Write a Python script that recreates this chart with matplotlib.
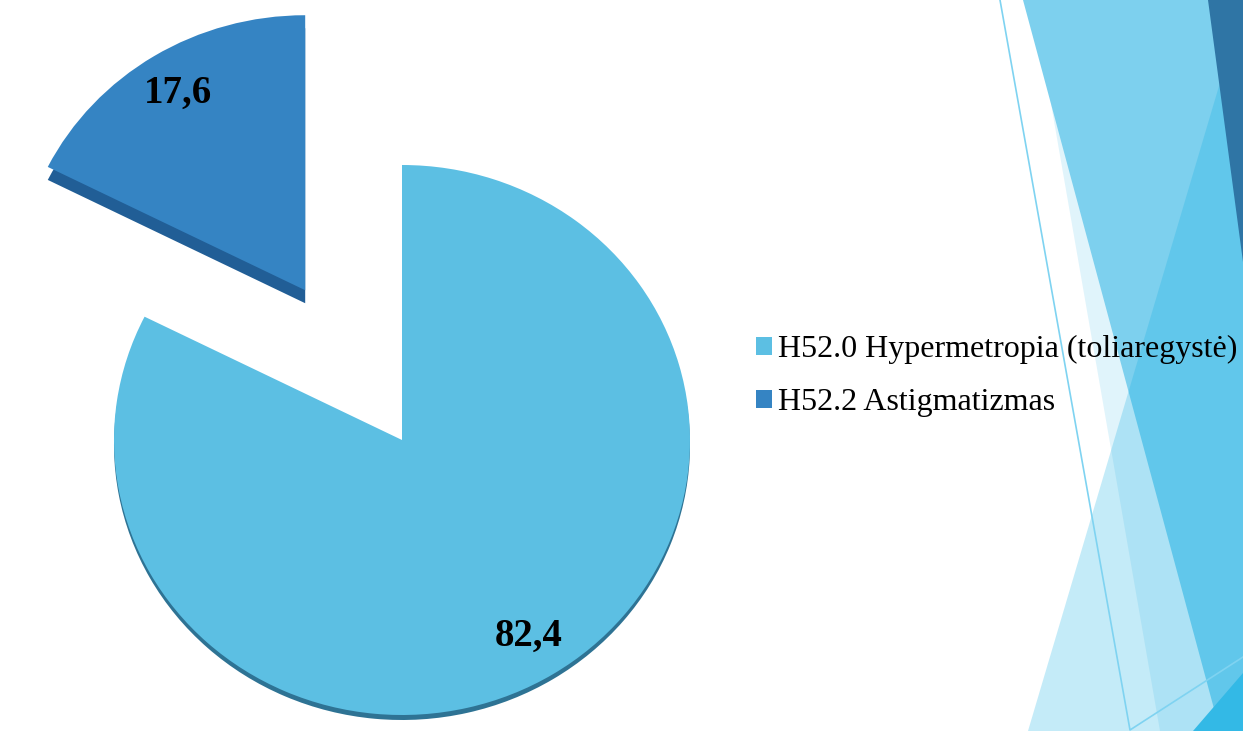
import matplotlib.pyplot as plt
from matplotlib.patches import Polygon

W, H = 1243, 731

labels = ['H52.0 Hypermetropia (toliaregystė)', 'H52.2 Astigmatizmas']
values = [82.4, 17.6]
colors = ['#5CBFE3', '#3584C3']
side_colors = ['#2E7394', '#215E96']   # darker "3d" side faces

plt.rcParams['font.family'] = ['Liberation Serif', 'DejaVu Serif']

fig = plt.figure(figsize=(W / 100, H / 100), dpi=100)

# slide decoration on the right, in pixel coords
bg = fig.add_axes([0, 0, 1, 1], zorder=0)
bg.set_xlim(0, W)
bg.set_ylim(H, 0)
bg.axis('off')

shapes = [
    ([(1033, 0), (1243, 0), (1243, 731), (1160, 731)], '#49BEE8', 0.17),
    ([(1023, 0), (1243, 0), (1243, 731), (1220, 731)], '#7DD0EE', 1.0),
    ([(1028, 731), (1243, 5), (1243, 731)], '#0CACE2', 0.24),
    ([(1208, 0), (1243, 0), (1243, 262)], '#2F75A5', 1.0),
    ([(1193, 731), (1243, 673), (1243, 731)], '#33B9E6', 1.0),
]
for pts, c, a in shapes:
    bg.add_patch(Polygon(pts, closed=True, facecolor=c, alpha=a, lw=0))
bg.plot([1000, 1130, 1243], [0, 730, 657], color='#7FD3F1', lw=1.2)

# pie, 1 unit = rx px across, ry px up
ax = fig.add_axes([0, 0, 1, 1], zorder=2)
ax.set_facecolor('none')
cx, cy, rx, ry = 402, 440, 288, 275
common = dict(startangle=90, counterclock=False, explode=[0, 0.64])

ax.pie(values, colors=[side_colors[0], 'none'], center=(0, -5 / ry), **common)
ax.pie(values, colors=['none', side_colors[1]], center=(0, -13 / ry), **common)
wedges, texts, autotexts = ax.pie(
    values, colors=colors,
    autopct=lambda p: f'{p:.1f}'.replace('.', ','),
    pctdistance=0.84,
    textprops=dict(fontsize=28, fontweight='bold', color='black'),
    **common)

ax.set_aspect('auto')
ax.set_xlim(-cx / rx, (W - cx) / rx)
ax.set_ylim(-(H - cy) / ry, cy / ry)

fig.legend(wedges, labels, loc='center left',
           bbox_to_anchor=(756 / W, 1 - 376 / H),
           frameon=False, fontsize=23,
           handlelength=0.5, handleheight=0.5, handletextpad=0.2,
           labelspacing=0.75, borderpad=0, borderaxespad=0)

fig.savefig('out.png', dpi=100)
